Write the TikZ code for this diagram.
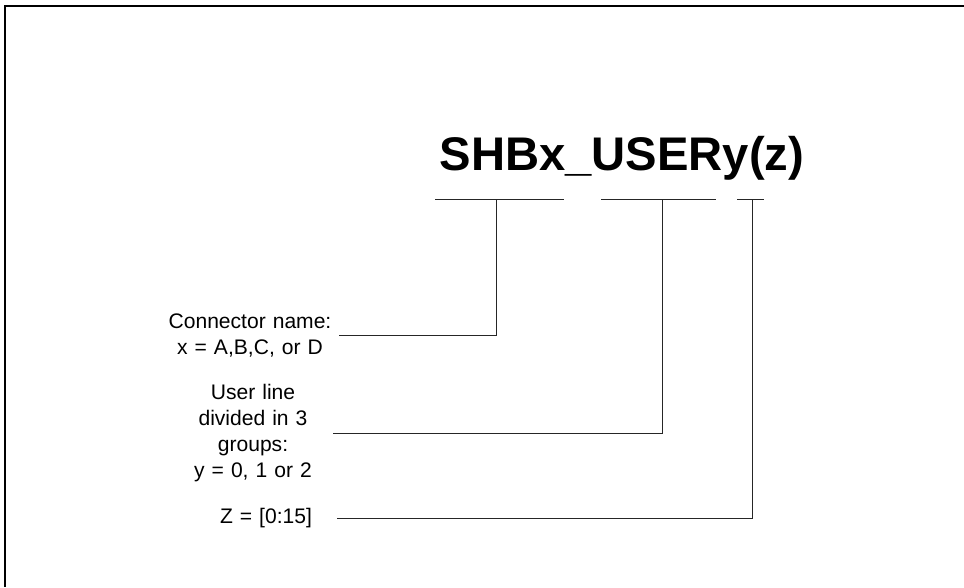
\documentclass[tikz,border=0pt]{standalone}
\usepackage{fontspec}
\setmainfont{Liberation Sans}
\usetikzlibrary{positioning,calc}

\tikzset{
    lbl/.style={align=center, inner sep=0pt, font=\fontsize{15.8}{19.5}\selectfont},
    link/.style={draw, line width=0.7pt, black!85}
}

\begin{document}
\begin{tikzpicture}[x=0.75pt, y=-0.75pt]
    \useasboundingbox (0,0) rectangle (964,587);
    % Frame
    \draw[line width=1.6pt] (964,6) -- (5,6) -- (5,587);

    % Title
    \node[anchor=base, inner sep=0pt, font=\fontsize{35.4}{42}\selectfont\bfseries] (title) at (622,170) {SHBx\_USERy(z)};

    % Brackets under the title
    \coordinate (tickA) at (496,199);
    \coordinate (tickB) at (662,199);
    \coordinate (tickC) at (752,199);
    \draw[link] (435,199) -- (564,199);
    \draw[link] (601,199) -- (716,199);
    \draw[link] (737,199) -- (764,199);

    % Labels
    \node[lbl, text width=133.5pt] (conn) at (250,335) {Connector name:\\x = A,B,C, or D};
    \node[lbl, text width=120pt] (user) at (253,433) {User line\\divided in 3\\groups:\\y = 0, 1 or 2};
    \node[lbl, text width=106.5pt] (zrange) at (266,518) {Z = [0:15]};

    % Connectors
    \draw[link] (conn.east) -| (tickA);
    \draw[link] (user.east) -| (tickB);
    \draw[link] (zrange.east) -| (tickC);
\end{tikzpicture}
\end{document}
